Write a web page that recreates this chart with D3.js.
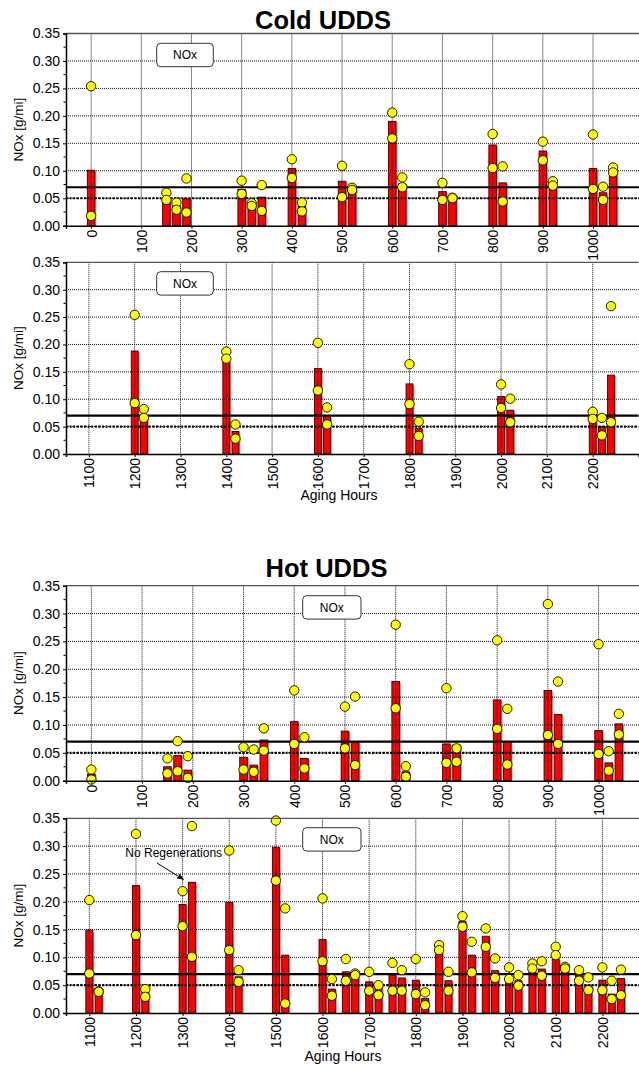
<!DOCTYPE html>
<html><head><meta charset="utf-8">
<script src="https://cdn.jsdelivr.net/npm/d3@7"></script>
<style>
html,body{margin:0;padding:0;background:#fff;}
svg{display:block;font-family:"Liberation Sans",Arial,sans-serif;}
</style></head>
<body>
<script>
// ---------- DATA ----------
const ticksLow = [0,100,200,300,400,500,600,700,800,900,1000];
const ticksHigh = [1100,1200,1300,1400,1500,1600,1700,1800,1900,2000,2100,2200];
const yTicks = [0.00,0.05,0.10,0.15,0.20,0.25,0.30,0.35];

// Cold UDDS, 0-1040 h
const coldHoursA = [0,150,170,190,300,320,340,400,420,500,520,600,620,700,720,800,820,900,920,1000,1020,1040];
const coldBarsA  = [0.101,0.047,0.036,0.049,0.066,0.037,0.052,0.104,0.035,0.081,0.068,0.190,0.076,0.062,0.052,0.147,0.078,0.136,0.070,0.104,0.060,0.098];
const coldDot1A  = [0.254,0.060,0.042,0.086,0.082,0.041,0.074,0.121,0.042,0.109,0.069,0.206,0.088,0.078,0.051,0.167,0.108,0.153,0.081,0.166,0.071,0.106];
const coldDot2A  = [0.018,0.047,0.029,0.024,0.058,0.036,0.027,0.087,0.026,0.052,0.065,0.159,0.070,0.047,0.050,0.105,0.044,0.119,0.073,0.067,0.047,0.097];

// Cold UDDS, 1200-2240 h
const coldHoursB = [1200,1220,1400,1420,1600,1620,1800,1820,2000,2020,2200,2220,2240];
const coldBarsB  = [0.188,0.070,0.170,0.041,0.156,0.068,0.128,0.047,0.105,0.080,0.072,0.050,0.144];
const coldDot1B  = [0.254,0.082,0.187,0.054,0.203,0.085,0.164,0.059,0.127,0.101,0.077,0.066,0.270];
const coldDot2B  = [0.093,0.066,0.174,0.028,0.116,0.054,0.091,0.033,0.084,0.058,0.064,0.034,0.058];

// Hot UDDS, 0-1040 h
const hotHoursA = [0,150,170,190,300,320,340,400,420,500,520,600,620,700,720,800,820,900,920,1000,1020,1040];
const hotBarsA  = [0.012,0.025,0.045,0.019,0.042,0.028,0.073,0.106,0.040,0.089,0.069,0.178,0.016,0.066,0.064,0.145,0.069,0.162,0.119,0.090,0.032,0.102];
const hotDot1A  = [0.020,0.040,0.071,0.044,0.060,0.056,0.094,0.162,0.078,0.133,0.151,0.280,0.026,0.166,0.058,0.252,0.129,0.317,0.178,0.245,0.053,0.120];
const hotDot2A  = [0.002,0.013,0.017,0.005,0.020,0.016,0.054,0.066,0.022,0.058,0.028,0.130,0.007,0.032,0.034,0.093,0.029,0.082,0.066,0.048,0.018,0.083];

// Hot UDDS, 1100-2240 h
const hotHoursB = [1100,1120,1200,1220,1300,1320,1400,1420,1500,1520,1600,1620,1650,1670,1700,1720,1750,1770,1800,1820,1850,1870,1900,1920,1950,1970,2000,2020,2050,2070,2100,2120,2150,2170,2200,2220,2240];
const hotBarsB  = [0.149,0.037,0.229,0.037,0.195,0.235,0.199,0.065,0.298,0.104,0.132,0.043,0.074,0.068,0.056,0.049,0.068,0.063,0.059,0.026,0.110,0.058,0.165,0.104,0.138,0.076,0.058,0.058,0.074,0.079,0.097,0.077,0.070,0.050,0.059,0.034,0.062];
const hotDot1B  = [0.203,0.039,0.322,0.043,0.219,0.336,0.292,0.077,0.346,0.188,0.206,0.061,0.097,0.071,0.074,0.050,0.090,0.077,0.097,0.037,0.122,0.074,0.174,0.128,0.152,0.098,0.082,0.068,0.089,0.093,0.119,0.083,0.077,0.064,0.082,0.058,0.078];
const hotDot2B  = [0.071,0.038,0.140,0.029,0.156,0.101,0.113,0.056,0.238,0.017,0.093,0.031,0.058,0.068,0.040,0.032,0.040,0.040,0.034,0.014,0.113,0.040,0.155,0.073,0.119,0.063,0.061,0.049,0.080,0.067,0.104,0.080,0.058,0.041,0.041,0.025,0.032];

const limitSolid = 0.07;
const limitDotted = 0.05;

// ---------- LAYOUT ----------
const W = 639, H = 1065;
const svg = d3.select("body").append("svg").attr("width", W).attr("height", H);
svg.append("rect").attr("width", W).attr("height", H).attr("fill", "#fff");

const panels = [
  {top:33.5, bottom:225.7, right:643.2, domain:[-50,1100], ticks:ticksLow, hours:coldHoursA, bars:coldBarsA, d1:coldDot1A, d2:coldDot2A, legend:[156.7,43.3,56.6]},
  {top:262.3, bottom:454, right:638.5, domain:[1050,2300], ticks:ticksHigh, hours:coldHoursB, bars:coldBarsB, d1:coldDot1B, d2:coldDot2B, legend:[156.7,271.7,56.6]},
  {top:585.7, bottom:780.7, right:649.3, domain:[-50,1100], ticks:ticksLow, hours:hotHoursA, bars:hotBarsA, d1:hotDot1A, d2:hotDot2A, legend:[302.7,595.7,58.3]},
  {top:818.3, bottom:1013, right:649, domain:[1050,2300], ticks:ticksHigh, hours:hotHoursB, bars:hotBarsB, d1:hotDot1B, d2:hotDot2B, legend:[302.7,827.7,58.3]}
];
const LEFT = 66;
const BAR_W_HOURS = 15;

svg.append("defs").append("marker")
  .attr("id","arrow").attr("viewBox","0 0 10 10").attr("refX",9).attr("refY",5)
  .attr("markerWidth",7).attr("markerHeight",7).attr("orient","auto")
  .append("path").attr("d","M0,1 L10,5 L0,9 Z").attr("fill","#000");

panels.forEach((p, i) => {
  const x = d3.scaleLinear().domain(p.domain).range([LEFT, p.right]);
  const y = d3.scaleLinear().domain([0, 0.35]).range([p.bottom, p.top]);
  const g = svg.append("g");
  const bw = x(BAR_W_HOURS) - x(0);

  // bars (shadow + bar)
  g.selectAll("rect.sh").data(p.hours).join("rect")
    .attr("x", (d,j) => x(d) - bw/2 + 1.5).attr("y", (d,j) => y(p.bars[j]) + 1)
    .attr("width", bw).attr("height", (d,j) => p.bottom - y(p.bars[j]) - 1)
    .attr("fill", "rgba(110,40,40,0.45)");
  g.selectAll("rect.bar").data(p.hours).join("rect")
    .attr("x", d => x(d) - bw/2).attr("y", (d,j) => y(p.bars[j]))
    .attr("width", bw).attr("height", (d,j) => p.bottom - y(p.bars[j]))
    .attr("fill", "#ff0000").attr("stroke", "#300000").attr("stroke-width", 0.9);

  // grid
  p.ticks.forEach(t => {
    g.append("line").attr("x1", x(t)).attr("x2", x(t)).attr("y1", p.top).attr("y2", p.bottom)
      .attr("stroke", "#111").attr("stroke-width", 1).attr("stroke-dasharray", "1,1");
  });
  yTicks.slice(1, -1).forEach(t => {
    g.append("line").attr("x1", LEFT).attr("x2", p.right).attr("y1", y(t)).attr("y2", y(t))
      .attr("stroke", "#111").attr("stroke-width", 1).attr("stroke-dasharray", "1,1");
  });

  // reference lines
  g.append("line").attr("x1", LEFT).attr("x2", p.right).attr("y1", y(limitSolid)).attr("y2", y(limitSolid))
    .attr("stroke", "#000").attr("stroke-width", 2.2);
  g.append("line").attr("x1", LEFT).attr("x2", p.right).attr("y1", y(limitDotted)).attr("y2", y(limitDotted))
    .attr("stroke", "#000").attr("stroke-width", 2.2).attr("stroke-dasharray", "2,1.6");

  // dots
  const pts = [];
  p.hours.forEach((h, j) => { pts.push([h, p.d1[j]]); pts.push([h, p.d2[j]]); });
  g.selectAll("circle").data(pts).join("circle")
    .attr("cx", d => x(d[0])).attr("cy", d => y(d[1])).attr("r", 4.7)
    .attr("fill", "#ffff00").attr("stroke", "#000").attr("stroke-width", 0.9);

  // frame
  g.append("line").attr("x1", LEFT).attr("x2", p.right).attr("y1", p.top).attr("y2", p.top)
    .attr("stroke", "#555").attr("stroke-width", 1.3);

  // axes
  const yAxis = d3.axisLeft(y).tickValues(yTicks).tickFormat(d3.format(".2f")).tickSize(3).tickPadding(3);
  const ya = g.append("g").attr("transform", `translate(${LEFT},0)`).call(yAxis);
  ya.select(".domain").attr("stroke", "#000").attr("stroke-width", 1.5);
  ya.selectAll("text").attr("font-size", 14).attr("fill", "#000").attr("font-family", "Liberation Sans, Arial, sans-serif");
  const minor = d3.range(0.025, 0.35, 0.05);
  ya.selectAll("line.minor").data(minor).join("line").attr("class","minor")
    .attr("x1", -2.5).attr("x2", 0).attr("y1", d => y(d)).attr("y2", d => y(d)).attr("stroke", "#000");

  const xAxis = d3.axisBottom(x).tickValues(p.ticks).tickFormat(d3.format("d")).tickSize(3).tickPadding(2);
  const xa = g.append("g").attr("transform", `translate(0,${p.bottom})`).call(xAxis);
  xa.select(".domain").attr("stroke", "#000").attr("stroke-width", 1.5);
  xa.selectAll("text").attr("font-size", 14).attr("fill", "#000")
    .attr("font-family", "Liberation Sans, Arial, sans-serif")
    .attr("transform", "rotate(-90)").attr("text-anchor", "end")
    .attr("x", -4).attr("y", 0).attr("dy", "0.35em");

  // y label
  svg.append("text").attr("transform", `translate(23,${(p.top + p.bottom)/2}) rotate(-90)`)
    .attr("text-anchor", "middle").attr("font-size", 13.5).text("NOx [g/mi]");

  // legend
  const [lx, ly, lw] = p.legend;
  svg.append("rect").attr("x", lx).attr("y", ly).attr("width", lw).attr("height", 23.4)
    .attr("rx", 4).attr("fill", "#fff").attr("stroke", "#333").attr("stroke-width", 1);
  svg.append("text").attr("x", lx + lw/2).attr("y", ly + 16).attr("text-anchor", "middle")
    .attr("font-size", 12).text("NOx");
});

// titles
svg.append("text").attr("x", 323).attr("y", 29).attr("text-anchor", "middle")
  .attr("font-size", 25.5).attr("font-weight", "bold").text("Cold UDDS");
svg.append("text").attr("x", 326.5).attr("y", 577).attr("text-anchor", "middle")
  .attr("font-size", 25.5).attr("font-weight", "bold").text("Hot UDDS");

// x labels
svg.append("text").attr("x", 339).attr("y", 500).attr("text-anchor", "middle")
  .attr("font-size", 14).text("Aging Hours");
svg.append("text").attr("x", 343).attr("y", 1061).attr("text-anchor", "middle")
  .attr("font-size", 14).text("Aging Hours");

// annotation
svg.append("text").attr("x", 173.7).attr("y", 857).attr("text-anchor", "middle")
  .attr("font-size", 12).text("No Regenerations");
svg.append("line").attr("x1", 157).attr("y1", 863).attr("x2", 183.5).attr("y2", 879.5)
  .attr("stroke", "#000").attr("stroke-width", 1).attr("marker-end", "url(#arrow)");
</script>
</body></html>
